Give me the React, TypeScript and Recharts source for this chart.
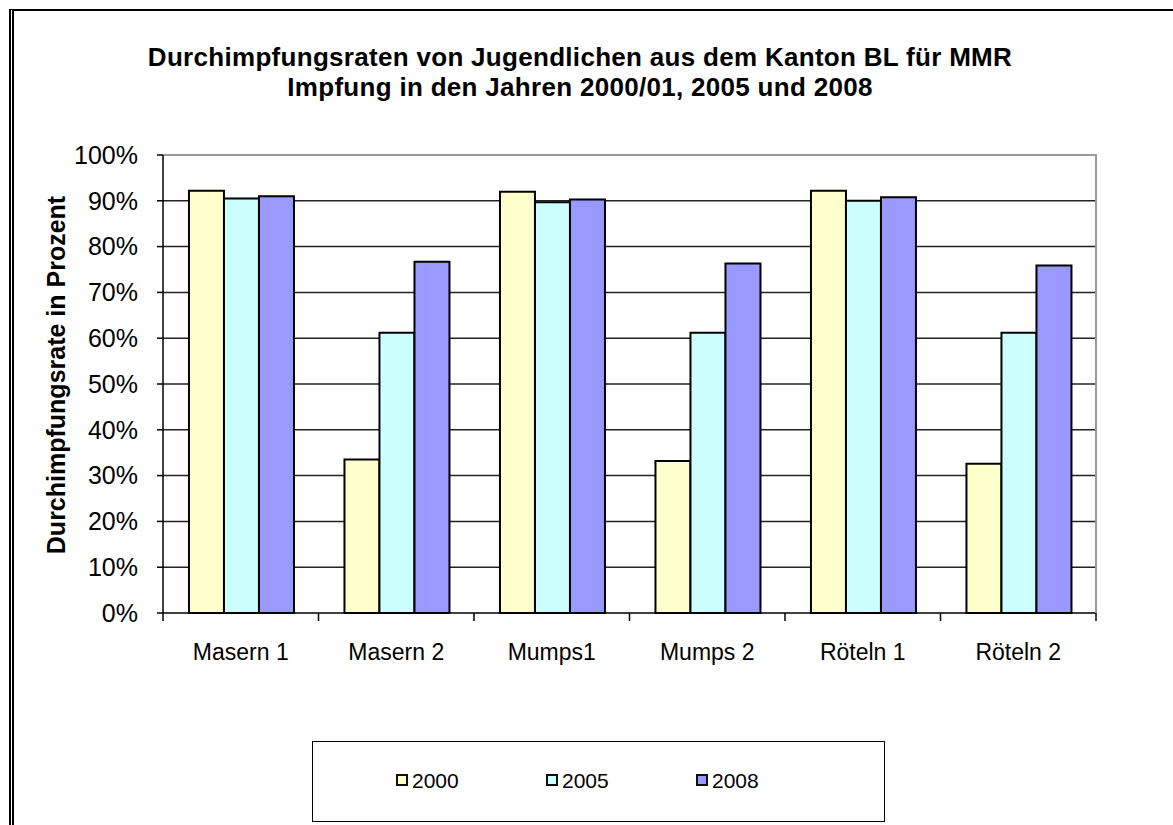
import React from 'react';
import {
  BarChart,
  Bar,
  XAxis,
  YAxis,
  CartesianGrid,
  Legend,
  ReferenceLine,
} from 'recharts';

const categories = ['Masern 1', 'Masern 2', 'Mumps1', 'Mumps 2', 'Röteln 1', 'Röteln 2'];
const rates2000 = [92.2, 33.5, 92.0, 33.2, 92.2, 32.6];
const rates2005 = [90.5, 61.2, 89.7, 61.2, 90.0, 61.2];
const rates2008 = [91.0, 76.7, 90.3, 76.3, 90.8, 75.9];
const yTicks = [0, 10, 20, 30, 40, 50, 60, 70, 80, 90, 100];
const seriesNames = ['2000', '2005', '2008'];
const seriesColors = ['#FFFFCC', '#CCFFFF', '#9999FF'];

const data = categories.map((name, i) => ({
  name,
  '2000': rates2000[i],
  '2005': rates2005[i],
  '2008': rates2008[i],
}));

const FONT = '"Liberation Sans", Arial, sans-serif';
const PLOT_LEFT = 163;
const PLOT_RIGHT = 1096;
const BAND = (PLOT_RIGHT - PLOT_LEFT) / categories.length;

function CategoryTick(props: any) {
  const { x, y, payload, index } = props;
  const axisY = y - 8;
  return (
    <g>
      <line x1={x - BAND / 2} y1={axisY} x2={x - BAND / 2} y2={axisY + 8} stroke="#000" strokeWidth={1.5} />
      {index === categories.length - 1 && (
        <line x1={x + BAND / 2} y1={axisY} x2={x + BAND / 2} y2={axisY + 8} stroke="#000" strokeWidth={1.5} />
      )}
      <text x={x} y={y + 39} textAnchor="middle" fontSize={23} fontFamily={FONT} fill="#000">
        {payload.value}
      </text>
    </g>
  );
}

function LegendBox() {
  return (
    <div
      style={{
        width: 573,
        height: 81,
        border: '1.5px solid #000',
        background: '#fff',
        boxSizing: 'border-box',
        position: 'relative',
      }}
    >
      {seriesNames.map((s, i) => (
        <div
          key={s}
          style={{
            position: 'absolute',
            left: 83 + i * 150,
            top: 27,
            display: 'flex',
            alignItems: 'center',
            fontFamily: FONT,
            fontSize: 21,
            lineHeight: '24px',
            color: '#000',
          }}
        >
          <span
            style={{
              display: 'inline-block',
              width: 8,
              height: 8,
              border: '2px solid #111',
              background: seriesColors[i],
              marginRight: 4,
              position: 'relative',
              top: -1,
            }}
          />
          {s}
        </div>
      ))}
    </div>
  );
}

export default function App() {
  return (
    <div
      style={{
        position: 'fixed',
        left: 0,
        top: 0,
        width: 1173,
        height: 825,
        background: '#fff',
        overflow: 'hidden',
      }}
    >
      {/* frame */}
      <div
        style={{
          position: 'absolute',
          left: 9,
          top: 9,
          width: 1200,
          height: 900,
          borderTop: '2px solid #000',
          borderLeft: '5px double #000',
        }}
      />
      <div
        style={{
          position: 'absolute',
          left: 0,
          top: 42,
          width: 1160,
          textAlign: 'center',
          fontFamily: FONT,
          fontWeight: 'bold',
          fontSize: 26,
          letterSpacing: 0.3,
          lineHeight: '30px',
          color: '#000',
        }}
      >
        Durchimpfungsraten von Jugendlichen aus dem Kanton BL für MMR
        <br />
        Impfung in den Jahren 2000/01, 2005 und 2008
      </div>
      <div style={{ position: 'absolute', left: 0, top: 0 }}>
        <BarChart
          width={1173}
          height={825}
          data={data}
          margin={{ top: 155, right: 1173 - PLOT_RIGHT, left: 0, bottom: 0 }}
          barCategoryGap="16.7%"
          barGap={0}
        >
          <CartesianGrid
            vertical={false}
            horizontalValues={[10, 20, 30, 40, 50, 60, 70, 80, 90]}
            stroke="#222"
            strokeWidth={1.5}
          />
          <ReferenceLine y={100} stroke="#999" strokeWidth={2} />
          <XAxis
            dataKey="name"
            height={212}
            axisLine={{ stroke: '#000', strokeWidth: 1.5 }}
            tickLine={false}
            tickSize={8}
            tickMargin={0}
            interval={0}
            tick={<CategoryTick />}
          />
          <YAxis
            width={PLOT_LEFT}
            domain={[0, 100]}
            ticks={yTicks}
            tickFormatter={(v: number) => `${v}%`}
            axisLine={{ stroke: '#000', strokeWidth: 1.5 }}
            tickLine={{ stroke: '#000', strokeWidth: 1.5 }}
            tickSize={6}
            tickMargin={19}
            tick={{ fontSize: 25, fontFamily: FONT, fill: '#000' }}
            label={{
              content: () => (
                <text
                  x={56}
                  y={375}
                  transform="rotate(-90 56 375)"
                  textAnchor="middle"
                  dominantBaseline="central"
                  fontSize={25}
                  fontWeight="bold"
                  fontFamily={FONT}
                  fill="#000"
                >
                  Durchimpfungsrate in Prozent
                </text>
              ),
            }}
          />
          {seriesNames.map((s, i) => (
            <Bar
              key={s}
              dataKey={s}
              name={s}
              fill={seriesColors[i]}
              stroke="#000"
              strokeWidth={2}
              isAnimationActive={false}
            />
          ))}
          <Legend
            layout="horizontal"
            verticalAlign="middle"
            align="center"
            wrapperStyle={{ position: 'absolute', left: 312, top: 741, width: 573, height: 81 }}
            content={() => <LegendBox />}
          />
        </BarChart>
      </div>
      {/* right plot border */}
      <div
        style={{
          position: 'absolute',
          left: PLOT_RIGHT - 1,
          top: 154,
          width: 2,
          height: 459,
          background: '#999',
        }}
      />
    </div>
  );
}
